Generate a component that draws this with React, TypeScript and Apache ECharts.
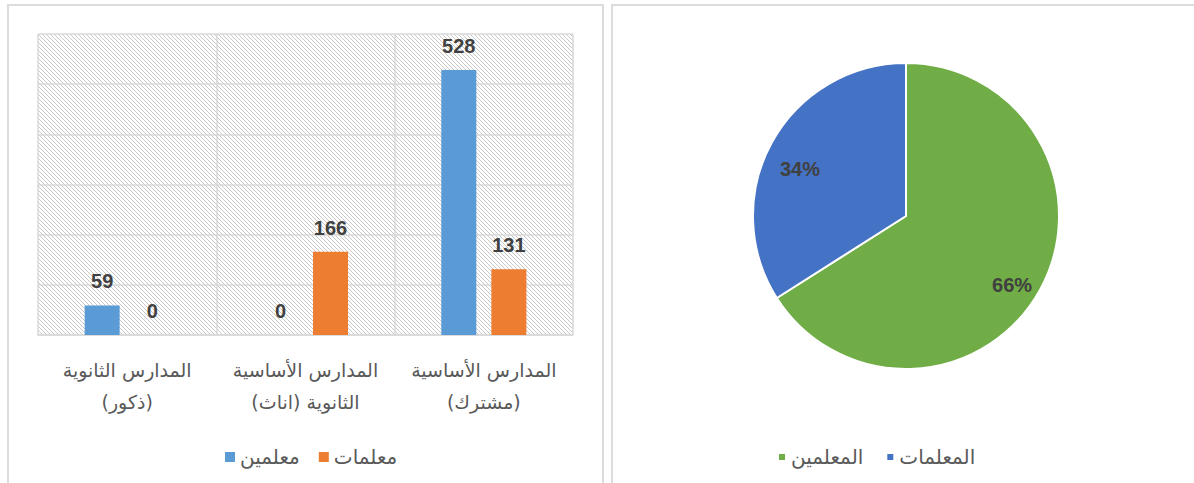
import React, { useEffect, useRef } from 'react';
import * as echarts from 'echarts';

const categories = [
  'المدارس الأساسية\n(مشترك)',
  'المدارس الأساسية\nالثانوية (اناث)',
  'المدارس الثانوية\n(ذكور)',
];
const maleTeachers = [528, 0, 59]; // معلمين
const femaleTeachers = [131, 166, 0]; // معلمات
const barSeriesNames = ['معلمين', 'معلمات'];
const pieNames = ['المعلمين', 'المعلمات'];
const pieValues = [66, 34];

const FONT = "'Liberation Sans', Arial, sans-serif";
const AR_FONT = "'DejaVu Sans', sans-serif";

function makeHatch(): string {
  const c = document.createElement('canvas');
  c.width = 4;
  c.height = 4;
  const ctx = c.getContext('2d')!;
  ctx.fillStyle = '#ffffff';
  ctx.fillRect(0, 0, 4, 4);
  ctx.fillStyle = '#c8c8c8';
  for (let i = 0; i < 4; i++) ctx.fillRect(i, i, 1, 1);
  return c.toDataURL();
}

export default function App() {
  const ref = useRef<HTMLDivElement>(null);
  useEffect(() => {
    if (!ref.current) return;
    const chart = echarts.init(ref.current, undefined, { renderer: 'svg' });
    const hatch = makeHatch();
    const option: any = {
      animation: false,
      textStyle: { fontFamily: FONT },
      graphic: [
        {
          type: 'rect',
          shape: { x: 8, y: 5, width: 595, height: 520 },
          style: { fill: 'none', stroke: '#dcdcdc', lineWidth: 2 },
          silent: true,
        },
        {
          type: 'rect',
          shape: { x: 612, y: 5, width: 620, height: 520 },
          style: { fill: 'none', stroke: '#dcdcdc', lineWidth: 2 },
          silent: true,
        },
      ],
      grid: {
        left: 38,
        top: 34,
        width: 535,
        height: 301,
        show: true,
        borderWidth: 0,
        backgroundColor: {
          image: hatch,
          repeat: 'repeat',
          imageWidth: 4,
          imageHeight: 4,
        },
      },
      legend: [
        {
          data: barSeriesNames,
          left: 225,
          top: 447,
          padding: 0,
          icon: 'rect',
          itemWidth: 10,
          itemHeight: 10,
          itemGap: 19,
          textStyle: { fontSize: 20, color: '#595959', fontFamily: AR_FONT },
        },
        {
          data: pieNames,
          left: 777,
          top: 447,
          padding: 0,
          icon: 'rect',
          itemWidth: 8,
          itemHeight: 8,
          itemGap: 22,
          textStyle: { fontSize: 20, color: '#595959', fontFamily: AR_FONT },
        },
      ],
      xAxis: {
        type: 'category',
        data: categories,
        inverse: true,
        axisLine: { lineStyle: { color: '#d9d9d9', width: 1.5 } },
        axisTick: { show: false },
        splitLine: { show: true, lineStyle: { color: '#d9d9d9', width: 1.5 } },
        axisLabel: {
          interval: 0,
          hideOverlap: false,
          margin: 19,
          fontSize: 19,
          lineHeight: 32,
          color: '#595959',
          fontFamily: AR_FONT,
        },
      },
      yAxis: {
        type: 'value',
        min: 0,
        max: 600,
        interval: 100,
        axisLabel: { show: false },
        axisLine: { show: false },
        axisTick: { show: false },
        splitLine: { show: true, lineStyle: { color: '#d9d9d9', width: 1.5 } },
      },
      series: [
        {
          type: 'bar',
          name: barSeriesNames[0],
          data: maleTeachers,
          barWidth: 35,
          barGap: '43%',
          itemStyle: { color: '#5B9BD5' },
          label: {
            show: true,
            position: 'top',
            distance: 14,
            fontSize: 20,
            fontWeight: 'bold',
            color: '#404040',
            fontFamily: FONT,
          },
        },
        {
          type: 'bar',
          name: barSeriesNames[1],
          data: femaleTeachers,
          barWidth: 35,
          barGap: '43%',
          itemStyle: { color: '#ED7D31' },
          label: {
            show: true,
            position: 'top',
            distance: 14,
            fontSize: 20,
            fontWeight: 'bold',
            color: '#404040',
            fontFamily: FONT,
          },
        },
        {
          type: 'pie',
          center: [906, 216],
          radius: [0, 153],
          startAngle: 90,
          clockwise: true,
          label: { show: false },
          labelLine: { show: false },
          emphasis: { disabled: true },
          itemStyle: { borderColor: '#ffffff', borderWidth: 2 },
          data: [
            { name: pieNames[0], value: pieValues[0], itemStyle: { color: '#70AD47' } },
            { name: pieNames[1], value: pieValues[1], itemStyle: { color: '#4472C4' } },
          ],
        },
        {
          type: 'pie',
          center: [906, 227],
          radius: [83, 153],
          startAngle: 90,
          clockwise: true,
          silent: true,
          legendHoverLink: false,
          emphasis: { disabled: true },
          itemStyle: { color: 'rgba(0,0,0,0)', borderWidth: 0 },
          labelLine: { show: false },
          label: {
            show: true,
            position: 'inside',
            fontSize: 20,
            fontWeight: 'bold',
            color: '#404040',
            fontFamily: FONT,
            formatter: (p: any) => Math.round(p.percent) + '%',
          },
          data: [
            { name: pieNames[0], value: pieValues[0] },
            { name: pieNames[1], value: pieValues[1] },
          ],
        },
      ],
    };
    chart.setOption(option);
    return () => chart.dispose();
  }, []);
  return (
    <div
      ref={ref}
      style={{ position: 'fixed', left: 0, top: 0, width: 1194, height: 483, background: '#ffffff' }}
    />
  );
}
